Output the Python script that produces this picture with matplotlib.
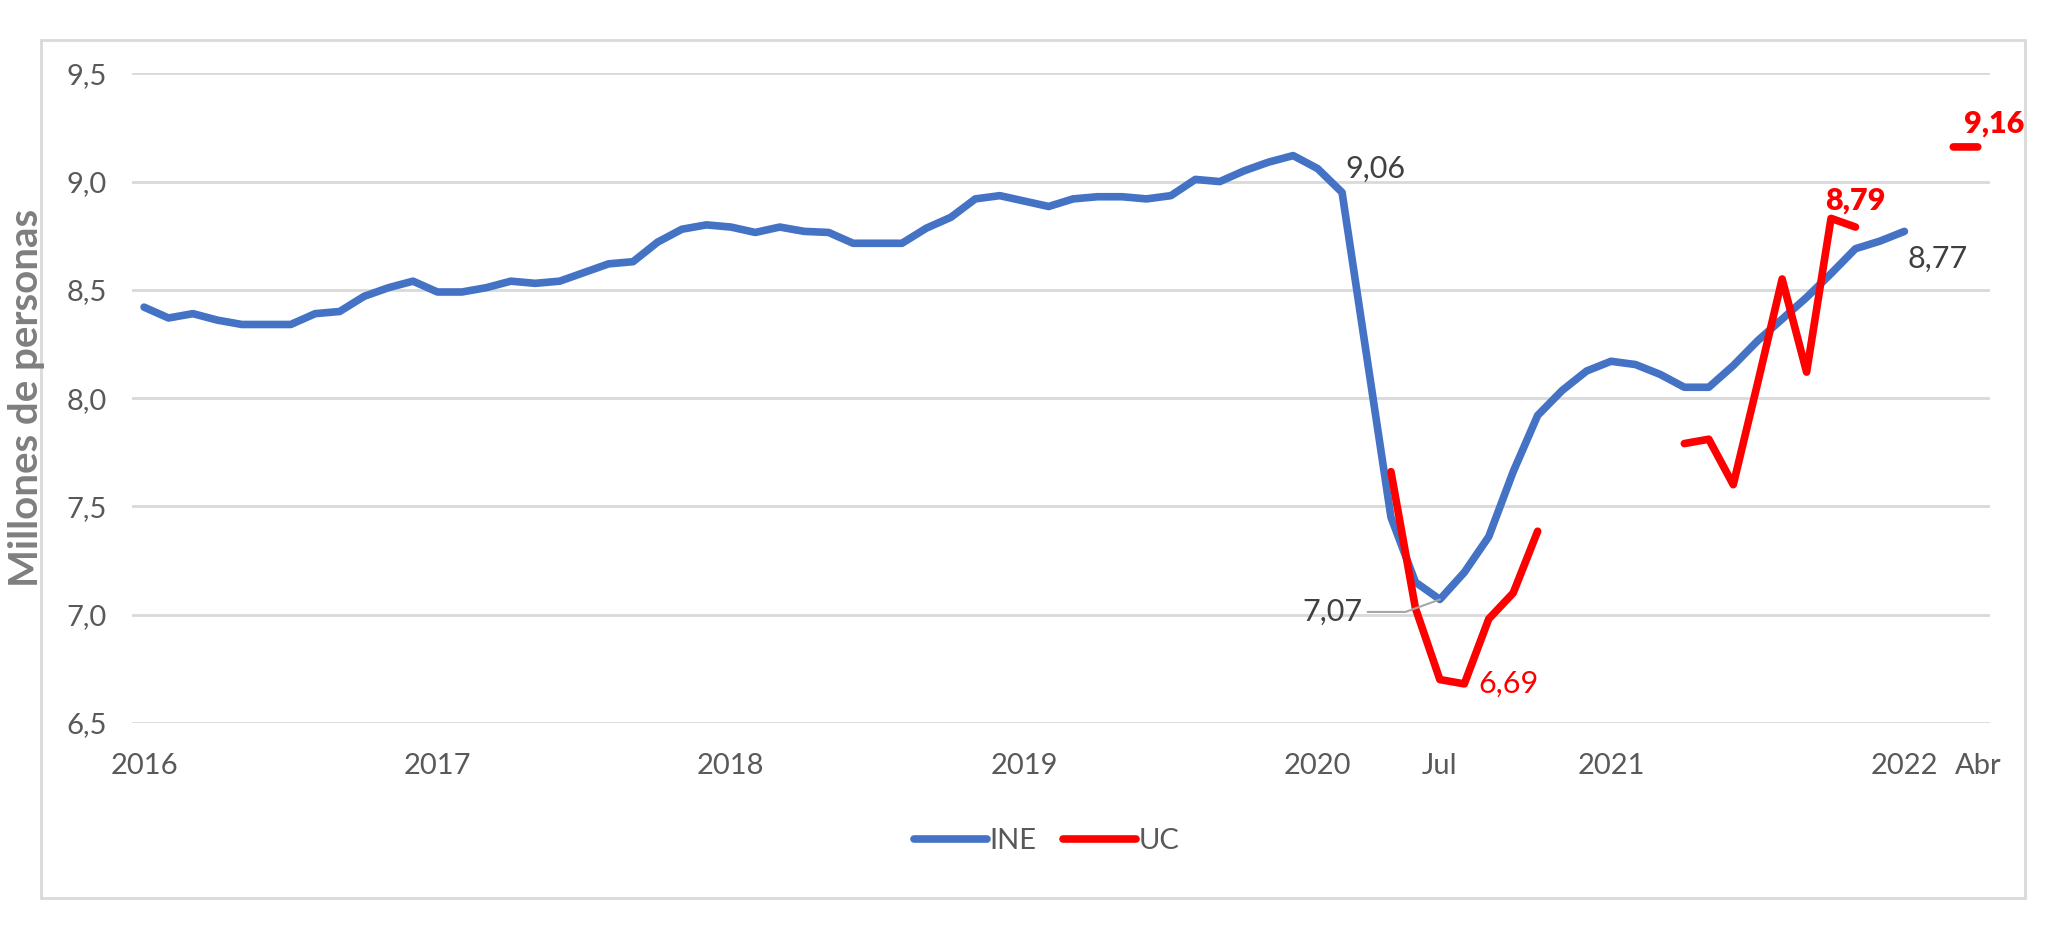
import numpy as np
import matplotlib
matplotlib.use("Agg")
import matplotlib.pyplot as plt
from matplotlib.patches import Rectangle

plt.rcParams['font.family'] = ['Lato', 'DejaVu Sans']

# monthly index: 0 = first month of 2016
ine = [8.42, 8.37, 8.39, 8.36, 8.34, 8.34, 8.34, 8.39, 8.40, 8.47, 8.51, 8.54,
       8.49, 8.49, 8.51, 8.54, 8.53, 8.54, 8.58, 8.62, 8.63, 8.72, 8.78, 8.80,
       8.79, 8.765, 8.79, 8.77, 8.765, 8.715, 8.715, 8.715, 8.785, 8.835, 8.92, 8.935,
       8.91, 8.885, 8.92, 8.93, 8.93, 8.92, 8.935, 9.01, 9.00, 9.05, 9.09, 9.12,
       9.06, 8.95, 8.20, 7.45, 7.15, 7.07, 7.195, 7.36, 7.66, 7.92, 8.035, 8.125,
       8.17, 8.155, 8.11, 8.05, 8.05, 8.15, 8.265, 8.365, 8.465, 8.575, 8.69, 8.725,
       8.77]
nan = np.nan
uc = [nan] * 51 + [7.66, 7.03, 6.70, 6.68, 6.98, 7.10, 7.385,
                   nan, nan, nan, nan, nan,
                   7.79, 7.81, 7.60, 8.07, 8.55, 8.12, 8.83, 8.79,
                   nan, nan, nan, 9.16, 9.16]

tick_pos = [0, 12, 24, 36, 48, 53, 60, 72, 75]
tick_lab = ["2016", "2017", "2018", "2019", "2020", "Jul", "2021", "2022", "Abr"]
y_ticks = [6.5, 7.0, 7.5, 8.0, 8.5, 9.0, 9.5]

blue = "#4472C4"
red = "#FF0000"
grey_txt = "#595959"

fig = plt.figure(figsize=(20.6, 9.4), dpi=100)
ax = fig.add_axes([0.064, 0.231, 0.902, 0.691])

x_ine = np.arange(len(ine))
x_uc = np.arange(len(uc))
ax.plot(x_ine, ine, color=blue, lw=5.5, solid_capstyle='round', solid_joinstyle='round', label="INE")
ax.plot(x_uc, uc, color=red, lw=5.5, solid_capstyle='round', solid_joinstyle='round', label="UC")

ax.set_xlim(-0.5, 75.5)
ax.set_ylim(6.5, 9.5)
ax.set_yticks(y_ticks)
ax.set_yticklabels([f"{v:.1f}".replace(".", ",") for v in y_ticks])
ax.set_xticks(tick_pos)
ax.set_xticklabels(tick_lab)
ax.tick_params(axis='both', length=0, labelsize=21, colors=grey_txt)
ax.tick_params(axis='y', pad=18)
ax.tick_params(axis='x', pad=22)
ax.grid(axis='y', color="#D9D9D9", lw=2)
ax.set_axisbelow(True)
for s in ax.spines.values():
    s.set_visible(False)

def fmt(v):
    return f"{v:.2f}".replace(".", ",")

# data labels
ax.annotate(fmt(ine[48]), (48, ine[48]), xytext=(20, 0), textcoords='offset points',
            ha='left', va='center', fontsize=22, color="#404040")
ax.annotate(fmt(ine[53]), (53, ine[53]), xytext=(-56, -9), textcoords='offset points',
            ha='right', va='center', fontsize=22, color="#404040",
            arrowprops=dict(arrowstyle='-', color="#A6A6A6", lw=1.5,
                            connectionstyle="angle,angleA=0,angleB=20,rad=0",
                            shrinkA=2, shrinkB=0))
ax.annotate(fmt(ine[72]), (72, ine[72]), xytext=(2, -20), textcoords='offset points',
            ha='left', va='center', fontsize=22, color="#404040")
ax.annotate("6,69", (54, uc[54]), xytext=(10, 0), textcoords='offset points',
            ha='left', va='center', fontsize=22, color=red)
ax.annotate(fmt(uc[70]), (70, uc[70]), xytext=(0, 19), textcoords='offset points',
            ha='center', va='center', fontsize=22, color=red, fontweight='heavy')
ax.annotate(fmt(uc[75]), (75, uc[75]), xytext=(-10, 17), textcoords='offset points',
            ha='left', va='center', fontsize=22, color=red, fontweight='heavy')

fig.text(0.013, 0.577, "Millones de personas", rotation=90, ha='center', va='center',
         fontsize=29, fontweight='bold', color="#7F7F7F")

fig.legend(loc='center', bbox_to_anchor=(0.508, 0.105), ncol=2, frameon=False,
           fontsize=21, handlelength=2.5, handletextpad=0.1, columnspacing=0.9,
           labelcolor=grey_txt)

fig.patches.append(Rectangle((0.02, 0.045), 0.963, 0.912, transform=fig.transFigure,
                             fill=False, edgecolor="#D9D9D9", lw=2))

fig.savefig("out.png", dpi=100)
